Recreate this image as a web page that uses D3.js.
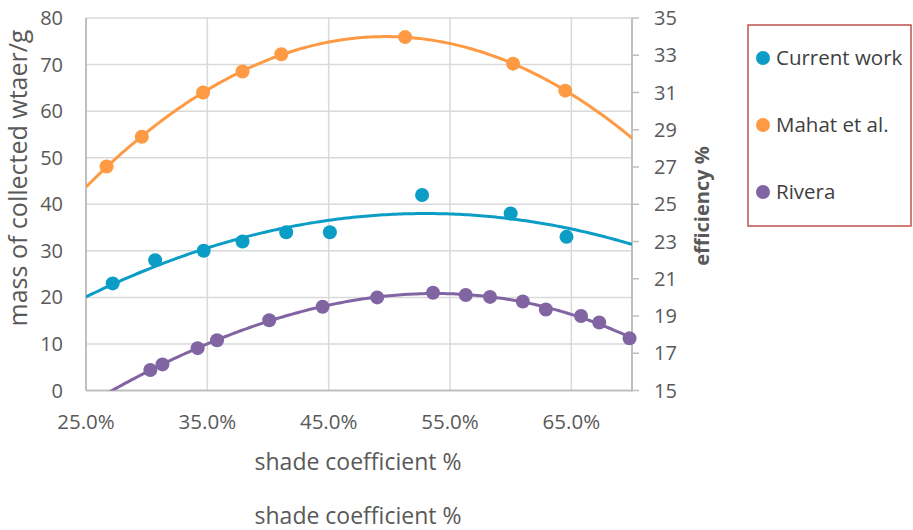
<!DOCTYPE html>
<html><head><meta charset="utf-8">
<script src="https://cdn.jsdelivr.net/npm/d3@7"></script>
<style>body{margin:0;background:#fff}text{font-family:"Open Sans",sans-serif}</style>
</head><body><svg id="c" width="913" height="530"></svg>
<script>
const seriesNames = ["Current work", "Mahat et al.", "Rivera"];
const seriesColors = ["#0b9dc6", "#fd9a43", "#8165a2"];
const currentX = [27.2, 30.7, 34.7, 37.9, 41.5, 45.1, 52.7, 60.0, 64.6];
const currentY = [23, 28, 30, 32, 34, 34, 42, 38, 33];
const mahatX = [26.7, 29.6, 34.65, 37.9, 41.1, 51.3, 60.2, 64.5];
const mahatY = [48.1, 54.5, 64.0, 68.5, 72.2, 75.9, 70.2, 64.4];
const riveraX = [30.3, 31.3, 34.2, 35.8, 40.1, 44.5, 49.0, 53.6, 56.3, 58.3, 61.0, 62.9, 65.8, 67.3, 69.8];
const riveraY = [4.4, 5.6, 9.1, 10.8, 15.1, 18.0, 20.0, 21.0, 20.5, 20.1, 19.1, 17.4, 16.0, 14.6, 11.2];
const trendOrder = [2, 2, 3];
const xTicks = [25, 35, 45, 55, 65];
const yLeftTicks = [0, 10, 20, 30, 40, 50, 60, 70, 80];
const yRightTicks = [15, 17, 19, 21, 23, 25, 27, 29, 31, 33, 35];

const svg = d3.select("#c");
const L = 86, R = 632, T = 18, B = 390.5;
const x = d3.scaleLinear().domain([25, 70]).range([L, R]);
const y = d3.scaleLinear().domain([0, 80]).range([B, T]);
const y2 = d3.scaleLinear().domain([15, 35]).range([B, T]);

// gridlines
svg.append("g").selectAll("line").data(yLeftTicks.slice(1)).join("line")
  .attr("x1", L).attr("x2", R).attr("y1", d => y(d)).attr("y2", d => y(d))
  .attr("stroke", "#d9d9d9").attr("stroke-width", 1.5);
svg.append("g").selectAll("line").data(xTicks.slice(1)).join("line")
  .attr("x1", d => x(d)).attr("x2", d => x(d)).attr("y1", T).attr("y2", B)
  .attr("stroke", "#d9d9d9").attr("stroke-width", 1.5);

// axes lines
svg.append("line").attr("x1", L).attr("x2", L).attr("y1", T).attr("y2", B).attr("stroke", "#bfbfbf").attr("stroke-width", 2);
svg.append("line").attr("x1", L).attr("x2", R).attr("y1", B).attr("y2", B).attr("stroke", "#bfbfbf").attr("stroke-width", 2);
svg.append("line").attr("x1", R).attr("x2", R).attr("y1", T).attr("y2", B + 1).attr("stroke", "#bfbfbf").attr("stroke-width", 2);
svg.append("g").selectAll("line").data(yRightTicks).join("line")
  .attr("x1", R).attr("x2", R + 7).attr("y1", d => y2(d)).attr("y2", d => y2(d))
  .attr("stroke", "#bfbfbf").attr("stroke-width", 1.5);

// tick labels
svg.append("g").selectAll("text").data(yLeftTicks).join("text")
  .attr("x", 63).attr("y", d => y(d)).attr("dy", "0.35em").attr("text-anchor", "end")
  .attr("font-size", 20).attr("fill", "#595959").text(d => d);
svg.append("g").selectAll("text").data(yRightTicks).join("text")
  .attr("x", 654).attr("y", d => y2(d)).attr("dy", "0.35em").attr("text-anchor", "start")
  .attr("font-size", 20).attr("fill", "#595959").text(d => d);
svg.append("g").selectAll("text").data(xTicks).join("text")
  .attr("x", d => x(d)).attr("y", 422).attr("dy", "0.35em").attr("text-anchor", "middle")
  .attr("font-size", 20.5).attr("fill", "#595959").text(d => d3.format(".1f")(d) + "%");

// axis titles
svg.append("text").attr("transform", "translate(27,178) rotate(-90)").attr("text-anchor", "middle")
  .attr("font-size", 25).attr("fill", "#595959").text("mass of collected wtaer/g");
svg.append("text").attr("transform", "translate(709,206) rotate(-90)").attr("text-anchor", "middle")
  .attr("font-size", 20).attr("font-weight", "bold").attr("fill", "#595959").text("efficiency %");
svg.append("text").attr("x", 358).attr("y", 462).attr("dy", "0.35em").attr("text-anchor", "middle")
  .attr("font-size", 23).attr("fill", "#595959").text("shade coefficient %");
svg.append("text").attr("x", 358).attr("y", 516).attr("dy", "0.35em").attr("text-anchor", "middle")
  .attr("font-size", 23).attr("fill", "#595959").text("shade coefficient %");

// polynomial least squares fit (trendline)
function polyfit(xs, ys, n) {
  const m = n + 1;
  const A = Array.from({length: m}, () => new Array(m + 1).fill(0));
  for (let k = 0; k < xs.length; k++) {
    for (let i = 0; i < m; i++) {
      for (let j = 0; j < m; j++) A[i][j] += Math.pow(xs[k], i + j);
      A[i][m] += ys[k] * Math.pow(xs[k], i);
    }
  }
  for (let i = 0; i < m; i++) {
    let p = i;
    for (let r = i + 1; r < m; r++) if (Math.abs(A[r][i]) > Math.abs(A[p][i])) p = r;
    [A[i], A[p]] = [A[p], A[i]];
    for (let r = 0; r < m; r++) if (r !== i) {
      const f = A[r][i] / A[i][i];
      for (let c = i; c <= m; c++) A[r][c] -= f * A[i][c];
    }
  }
  const coef = A.map((row, i) => row[m] / row[i]);
  return v => coef.reduce((s, c, i) => s + c * Math.pow(v, i), 0);
}

svg.append("defs").append("clipPath").attr("id", "clip").append("rect")
  .attr("x", L).attr("y", T - 2).attr("width", R - L).attr("height", B - T + 2);

const series = [
  {xs: currentX, ys: currentY},
  {xs: mahatX, ys: mahatY},
  {xs: riveraX, ys: riveraY}
];
const line = d3.line().x(d => x(d[0])).y(d => y(d[1]));
const gridX = d3.range(25, 70.001, 0.25);
series.forEach((s, i) => {
  const f = polyfit(s.xs, s.ys, trendOrder[i]);
  svg.append("path").attr("clip-path", "url(#clip)")
    .attr("d", line(gridX.map(v => [v, f(v)])))
    .attr("fill", "none").attr("stroke", seriesColors[i]).attr("stroke-width", 3);
});
series.forEach((s, i) => {
  svg.append("g").selectAll("circle").data(s.xs.map((v, k) => [v, s.ys[k]])).join("circle")
    .attr("cx", d => x(d[0])).attr("cy", d => y(d[1])).attr("r", 7).attr("fill", seriesColors[i]);
});

// legend
svg.append("rect").attr("x", 748).attr("y", 25).attr("width", 163).attr("height", 201)
  .attr("fill", "none").attr("stroke", "#c0504d").attr("stroke-width", 1.5);
const lg = svg.append("g").selectAll("g").data(seriesNames).join("g")
  .attr("transform", (d, i) => `translate(763,${58 + i * 67})`);
lg.append("circle").attr("r", 7).attr("fill", (d, i) => seriesColors[i]);
lg.append("text").attr("x", 13).attr("dy", "0.35em").attr("font-size", 20.5).attr("fill", "#404040").text(d => d);
</script></body></html>
